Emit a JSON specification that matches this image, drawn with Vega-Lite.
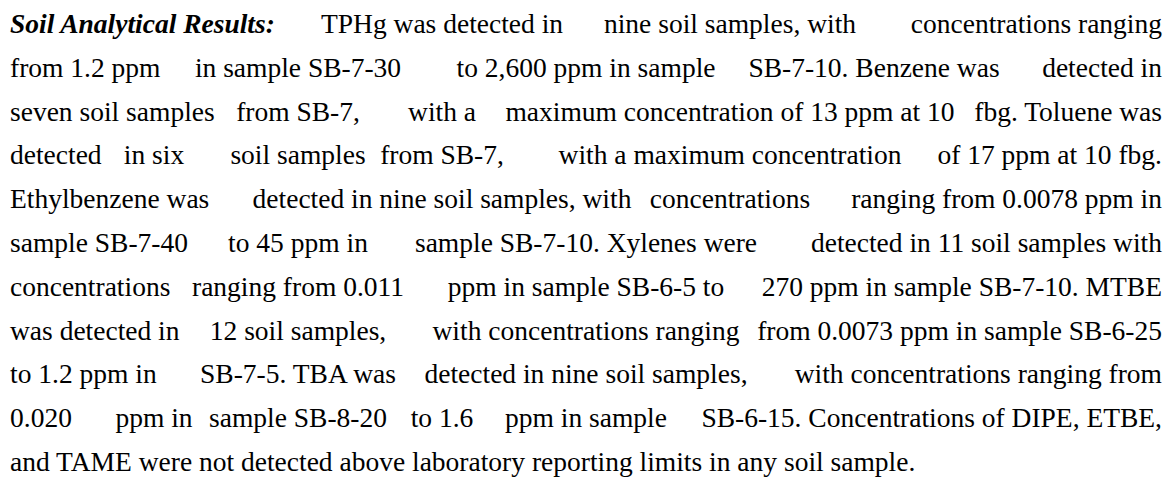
{
  "$schema": "https://vega.github.io/schema/vega-lite/v6.json",
  "width": 1173,
  "height": 478,
  "padding": 0,
  "autosize": {"type": "none"},
  "background": "white",
  "config": {"view": {"stroke": null}},
  "data": {
    "values": [
      {"line": 1, "stop": "a0", "role": "heading", "text": "Soil Analytical Results:"},
      {"line": 1, "stop": "a3", "role": "body", "text": "TPHg was detected in"},
      {"line": 1, "stop": "a5", "role": "body", "text": "nine soil samples, with"},
      {"line": 1, "stop": "a8", "role": "body", "text": "concentrations ranging"},
      {"line": 2, "stop": "a0", "role": "body", "text": "from 1.2 ppm"},
      {"line": 2, "stop": "a2", "role": "body", "text": "in sample SB-7-30"},
      {"line": 2, "stop": "a4", "role": "body", "text": "to 2,600 ppm in sample"},
      {"line": 2, "stop": "a6", "role": "body", "text": "SB-7-10.  Benzene was"},
      {"line": 2, "stop": "a8", "role": "body", "text": "detected in"},
      {"line": 3, "stop": "a0", "role": "body", "text": "seven soil samples"},
      {"line": 3, "stop": "a2", "role": "body", "text": "from SB-7,"},
      {"line": 3, "stop": "a3", "role": "body", "text": "with a"},
      {"line": 3, "stop": "a5", "role": "body", "text": "maximum concentration of 13 ppm at 10"},
      {"line": 3, "stop": "a8", "role": "body", "text": "fbg. Toluene was"},
      {"line": 4, "stop": "a0", "role": "body", "text": "detected"},
      {"line": 4, "stop": "a1", "role": "body", "text": "in six"},
      {"line": 4, "stop": "a2", "role": "body", "text": "soil samples"},
      {"line": 4, "stop": "a3", "role": "body", "text": "from SB-7,"},
      {"line": 4, "stop": "a5", "role": "body", "text": "with a maximum concentration"},
      {"line": 4, "stop": "a8", "role": "body", "text": "of 17 ppm at 10 fbg."},
      {"line": 5, "stop": "a0", "role": "body", "text": "Ethylbenzene was"},
      {"line": 5, "stop": "a3", "role": "body", "text": "detected in nine soil samples, with"},
      {"line": 5, "stop": "a5", "role": "body", "text": "concentrations"},
      {"line": 5, "stop": "a8", "role": "body", "text": "ranging from 0.0078 ppm in"},
      {"line": 6, "stop": "a0", "role": "body", "text": "sample SB-7-40"},
      {"line": 6, "stop": "a2", "role": "body", "text": "to 45 ppm in"},
      {"line": 6, "stop": "a4", "role": "body", "text": "sample SB-7-10.  Xylenes were"},
      {"line": 6, "stop": "a8", "role": "body", "text": "detected in 11 soil samples with"},
      {"line": 7, "stop": "a0", "role": "body", "text": "concentrations"},
      {"line": 7, "stop": "a2", "role": "body", "text": "ranging from 0.011"},
      {"line": 7, "stop": "a4", "role": "body", "text": "ppm in sample SB-6-5 to"},
      {"line": 7, "stop": "a8", "role": "body", "text": "270 ppm in sample SB-7-10.  MTBE"},
      {"line": 8, "stop": "a0", "role": "body", "text": "was detected in"},
      {"line": 8, "stop": "a2", "role": "body", "text": "12 soil samples,"},
      {"line": 8, "stop": "a4", "role": "body", "text": "with concentrations ranging"},
      {"line": 8, "stop": "a8", "role": "body", "text": "from 0.0073 ppm in sample SB-6-25"},
      {"line": 9, "stop": "a0", "role": "body", "text": "to 1.2 ppm in"},
      {"line": 9, "stop": "a2", "role": "body", "text": "SB-7-5.  TBA was"},
      {"line": 9, "stop": "a4", "role": "body", "text": "detected in nine soil samples,"},
      {"line": 9, "stop": "a8", "role": "body", "text": "with concentrations ranging from"},
      {"line": 10, "stop": "a0", "role": "body", "text": "0.020"},
      {"line": 10, "stop": "a1", "role": "body", "text": "ppm in"},
      {"line": 10, "stop": "a2", "role": "body", "text": "sample SB-8-20"},
      {"line": 10, "stop": "a3", "role": "body", "text": "to 1.6"},
      {"line": 10, "stop": "a4", "role": "body", "text": "ppm in sample"},
      {"line": 10, "stop": "a8", "role": "body", "text": "SB-6-15.    Concentrations of DIPE, ETBE,"},
      {"line": 11, "stop": "a0", "role": "body", "text": "and TAME were not detected above laboratory reporting limits in any soil sample."}
    ]
  },
  "encoding": {
    "x": {"field": "stop", "type": "nominal", "scale": {"type": "point", "domain": ["a0", "a1", "a2", "a3", "a4", "a5", "a6", "a7", "a8"], "range": [10, 1162], "padding": 0}, "axis": null},
    "y": {"field": "line", "type": "quantitative", "scale": {"domain": [1, 11], "range": [33, 471]}, "axis": null},
    "text": {"field": "text", "type": "nominal"}
  },
  "layer": [
    {
      "transform": [{"filter": "datum.stop === 'a0' && datum.role === 'body'"}],
      "mark": {"type": "text", "align": "left", "baseline": "alphabetic", "font": "Liberation Serif", "fontSize": 27.5, "color": "#000"}
    },
    {
      "transform": [{"filter": "datum.stop !== 'a0' && datum.stop !== 'a8'"}],
      "mark": {"type": "text", "align": "center", "baseline": "alphabetic", "font": "Liberation Serif", "fontSize": 27.5, "color": "#000"}
    },
    {
      "transform": [{"filter": "datum.stop === 'a8'"}],
      "mark": {"type": "text", "align": "right", "baseline": "alphabetic", "font": "Liberation Serif", "fontSize": 27.5, "color": "#000"}
    },
    {
      "transform": [{"filter": "datum.role === 'heading'"}],
      "mark": {"type": "text", "align": "left", "baseline": "alphabetic", "font": "Liberation Serif", "fontSize": 27.5, "fontWeight": "bold", "fontStyle": "italic", "color": "#000"}
    }
  ]
}
